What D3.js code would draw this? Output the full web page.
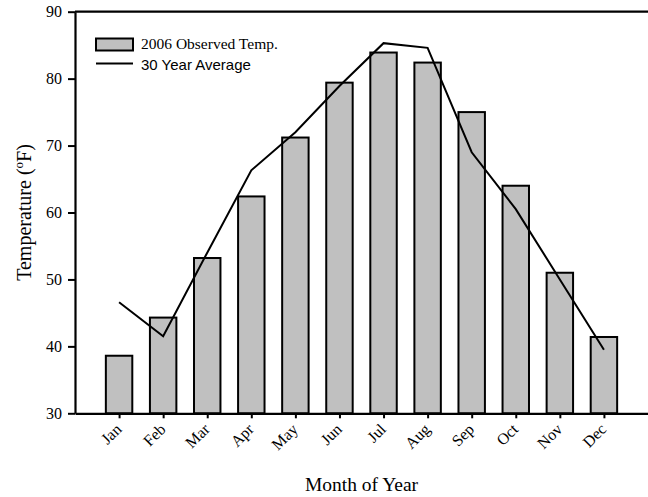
<!DOCTYPE html>
<html>
<head>
<meta charset="utf-8">
<script src="https://cdn.jsdelivr.net/npm/d3@7"></script>
<style>
  body { margin: 0; background: #fff; }
  svg { display: block; }
</style>
</head>
<body>
<div id="chart"></div>
<script>
const months = ["Jan", "Feb", "Mar", "Apr", "May", "Jun", "Jul", "Aug", "Sep", "Oct", "Nov", "Dec"];
const observed2006 = [38.6, 44.3, 53.2, 62.4, 71.2, 79.4, 83.9, 82.4, 75.0, 64.0, 51.0, 41.4];
const avg30Year = [46.6, 41.5, 54.0, 66.3, 72.0, 78.9, 85.3, 84.6, 69.0, 60.5, 50.0, 39.5];
const yTicks = [30, 40, 50, 60, 70, 80, 90];

const W = 648, H = 497;
const plot = {left: 75, right: 648, top: 11.7, bottom: 413.3};

const svg = d3.select("#chart").append("svg")
    .attr("width", W)
    .attr("height", H);

const serif = "'Liberation Serif', 'Times New Roman', serif";
const sans = "'Liberation Sans', Arial, sans-serif";

const x = d3.scaleLinear().domain([0, 13]).range([plot.left, plot.right]);
const y = d3.scaleLinear().domain([30, 90]).range([plot.bottom, plot.top]);
const barW = (x(1) - x(0)) * 0.6;

// bars
svg.append("g").selectAll("rect")
    .data(observed2006)
    .enter().append("rect")
    .attr("x", (d, i) => x(i + 1) - barW / 2)
    .attr("y", d => y(d))
    .attr("width", barW)
    .attr("height", d => y(30) - y(d))
    .attr("fill", "#c0c0c0")
    .attr("stroke", "#000")
    .attr("stroke-width", 2);

// 30 year average line
const line = d3.line()
    .x((d, i) => x(i + 1))
    .y(d => y(d));

svg.append("path")
    .datum(avg30Year)
    .attr("d", line)
    .attr("fill", "none")
    .attr("stroke", "#000")
    .attr("stroke-width", 2);

// top frame line
svg.append("line")
    .attr("x1", plot.left).attr("x2", plot.right)
    .attr("y1", plot.top).attr("y2", plot.top)
    .attr("stroke", "#000")
    .attr("stroke-width", 2.2);

// y axis
const yAxis = svg.append("g")
    .attr("transform", "translate(" + plot.left + ",0)")
    .call(d3.axisLeft(y).tickValues(yTicks).tickSize(7).tickPadding(6).tickSizeOuter(0));
yAxis.select(".domain").attr("stroke-width", 2.2);
yAxis.selectAll(".tick line").attr("stroke-width", 2);
yAxis.selectAll("text")
    .attr("font-family", serif)
    .attr("font-size", 16)
    .attr("fill", "#000");

// x axis
const xAxis = svg.append("g")
    .attr("transform", "translate(0," + plot.bottom + ")")
    .call(d3.axisBottom(x).tickValues(d3.range(1, 13)).tickSize(5).tickSizeOuter(0)
        .tickFormat(d => months[d - 1]));
xAxis.select(".domain").attr("stroke-width", 2.2);
xAxis.selectAll(".tick line").attr("stroke-width", 2);
xAxis.selectAll("text")
    .attr("font-family", serif)
    .attr("font-size", 16)
    .attr("fill", "#000")
    .attr("text-anchor", "end")
    .attr("x", 0)
    .attr("y", 0)
    .attr("dy", "0.35em")
    .attr("transform", "translate(-1,13) rotate(-45)");

// axis titles
svg.append("text")
    .attr("x", (plot.left + plot.right) / 2)
    .attr("y", 491)
    .attr("text-anchor", "middle")
    .attr("font-family", serif)
    .attr("font-size", 19.5)
    .text("Month of Year");

const yTitle = svg.append("text")
    .attr("transform", "translate(31," + (plot.top + plot.bottom) / 2 + ") rotate(-90)")
    .attr("text-anchor", "middle")
    .attr("font-family", serif)
    .attr("font-size", 20);
yTitle.append("tspan").text("Temperature (");
yTitle.append("tspan").attr("font-size", 13).attr("dy", "-0.6em").text("o");
yTitle.append("tspan").attr("dy", "0.4em").text("F)");

// legend
const legend = svg.append("g");
legend.append("rect")
    .attr("x", 96).attr("y", 38.5)
    .attr("width", 37).attr("height", 12)
    .attr("fill", "#c0c0c0")
    .attr("stroke", "#000")
    .attr("stroke-width", 2);
legend.append("text")
    .attr("x", 141).attr("y", 49)
    .attr("font-family", serif)
    .attr("font-size", 15.5)
    .text("2006 Observed Temp.");
legend.append("line")
    .attr("x1", 96).attr("x2", 133)
    .attr("y1", 63.5).attr("y2", 63.5)
    .attr("stroke", "#000")
    .attr("stroke-width", 2);
legend.append("text")
    .attr("x", 141).attr("y", 70)
    .attr("font-family", sans)
    .attr("font-size", 15)
    .text("30 Year Average");
</script>
</body>
</html>
